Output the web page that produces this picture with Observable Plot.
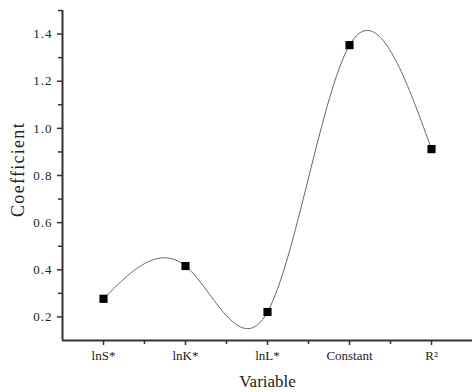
<!DOCTYPE html>
<html><head><meta charset="utf-8">
<script src="https://cdn.jsdelivr.net/npm/d3@7"></script>
<script src="https://cdn.jsdelivr.net/npm/@observablehq/plot@0.6"></script>
<style>body{margin:0;background:#fff}</style>
</head><body><div id="chart"></div>
<script>
const categories = ["lnS*", "lnK*", "lnL*", "Constant", "R²"];
const coefficients = [0.277, 0.416, 0.221, 1.353, 0.912];
const yMajorTicks = [0.2, 0.4, 0.6, 0.8, 1.0, 1.2, 1.4];
const yMinorTicks = [0.3, 0.5, 0.7, 0.9, 1.1, 1.3, 1.5];
const xMinorTicks = [1.5, 2.5, 3.5, 4.5];

const data = categories.map((c, i) => ({idx: i + 1, cat: c, v: coefficients[i]}));
const font = "'Liberation Serif', 'DejaVu Serif', serif";
const axisColor = "#333";

const chart = Plot.plot({
  width: 472, height: 392,
  marginLeft: 62, marginRight: 0, marginTop: 10, marginBottom: 52,
  style: {fontFamily: font, fontSize: "13px", color: "#222", background: "#fff"},
  x: {type: "linear", domain: [0.5, 5.5]},
  y: {domain: [0.1, 1.5]},
  marks: [
    Plot.line(data, {x: "idx", y: "v", curve: "natural", stroke: "#666", strokeWidth: 1}),
    Plot.dot(data, {x: "idx", y: "v", symbol: "square", r: 4.6, fill: "#000", stroke: "none"}),
    Plot.axisY({ticks: yMajorTicks, tickSize: 5, tickPadding: 5, stroke: axisColor, strokeWidth: 1.5,
      tickFormat: d3.format(".1f"), label: null, fontSize: 13}),
    Plot.axisY({ticks: yMinorTicks, tickSize: 4, stroke: axisColor, strokeWidth: 1.5, tickFormat: () => "", label: null}),
    Plot.axisX({ticks: [1, 2, 3, 4, 5], tickSize: 5, tickPadding: 5, stroke: axisColor, strokeWidth: 1.5,
      tickFormat: d => categories[d - 1], label: null, fontSize: 13}),
    Plot.axisX({ticks: xMinorTicks, tickSize: 4, stroke: axisColor, strokeWidth: 1.5, tickFormat: () => "", label: null}),
    Plot.ruleX([0.5], {stroke: axisColor, strokeWidth: 2}),
    Plot.ruleY([0.1], {stroke: axisColor, strokeWidth: 2}),
    Plot.text(["Variable"], {frameAnchor: "bottom", dy: 46, fontSize: 17, fill: "#222"}),
    Plot.text(["Coefficient"], {frameAnchor: "left", textAnchor: "middle", dx: -44, dy: -6, rotate: -90, fontSize: 18, fill: "#222"})
  ]
});
d3.select(chart).selectAll("text").filter(function () { return this.textContent === "Coefficient"; })
  .attr("letter-spacing", "1.3px");
d3.select(chart).selectAll("text").filter(function () { return /^\d\.\d$/.test(this.textContent); })
  .attr("letter-spacing", "1px");
document.getElementById("chart").append(chart);
</script>
</body></html>
